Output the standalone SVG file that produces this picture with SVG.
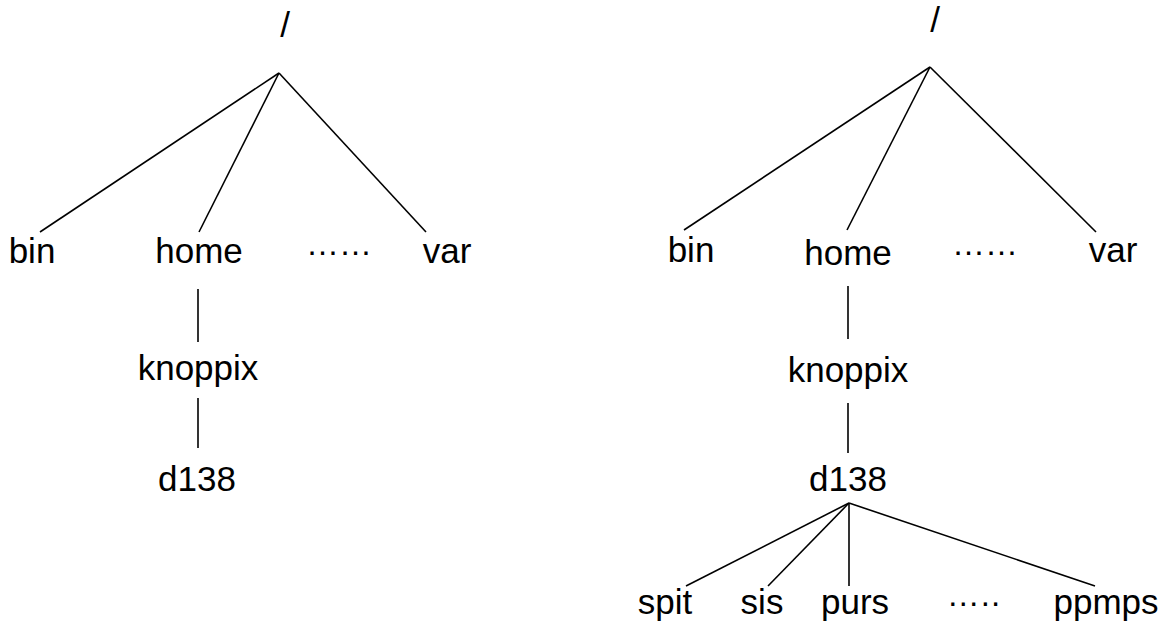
<svg xmlns="http://www.w3.org/2000/svg" width="1161" height="622" viewBox="0 0 1161 622">
<style>
.t{font-family:"Liberation Sans",Arial,sans-serif;font-size:35px;fill:#000;text-anchor:middle}
.d{font-family:"Liberation Sans",Arial,sans-serif;font-size:33px;fill:#000;text-anchor:middle}
.c line{stroke:#000;stroke-width:1.6;fill:none}
</style>
<rect width="1161" height="622" fill="#fff"/>
<g class="c" id="connectors">
<line x1="279" y1="73" x2="40" y2="232"/>
<line x1="279" y1="73" x2="199" y2="232"/>
<line x1="279" y1="73" x2="426" y2="232"/>
<line x1="198" y1="289" x2="198" y2="342"/>
<line x1="198" y1="398" x2="198" y2="448"/>
<line x1="930" y1="67" x2="684" y2="230"/>
<line x1="930" y1="67" x2="847" y2="230"/>
<line x1="930" y1="67" x2="1096" y2="232"/>
<line x1="848" y1="286" x2="848" y2="339"/>
<line x1="848" y1="403" x2="848" y2="453"/>
<line x1="849" y1="503" x2="686" y2="586"/>
<line x1="849" y1="503" x2="768" y2="586"/>
<line x1="849" y1="503" x2="849" y2="586"/>
<line x1="849" y1="503" x2="1095" y2="586"/>
</g>
<g id="l-root"><text class="t" x="285" y="37">/</text></g>
<g id="l-bin"><text class="t" x="32" y="263">bin</text></g>
<g id="l-home"><text class="t" x="199" y="263">home</text></g>
<g id="l-dots"><text class="d" x="339" y="255">……</text></g>
<g id="l-var"><text class="t" x="447" y="263">var</text></g>
<g id="l-knoppix"><text class="t" x="198" y="380">knoppix</text></g>
<g id="l-d138"><text class="t" x="197" y="491">d138</text></g>
<g id="r-root"><text class="t" x="935" y="32">/</text></g>
<g id="r-bin"><text class="t" x="691" y="262">bin</text></g>
<g id="r-home"><text class="t" x="848" y="265">home</text></g>
<g id="r-dots"><text class="d" x="985" y="255">……</text></g>
<g id="r-var"><text class="t" x="1113" y="262">var</text></g>
<g id="r-knoppix"><text class="t" x="848" y="382">knoppix</text></g>
<g id="r-d138"><text class="t" x="848" y="491">d138</text></g>
<g id="r-spit"><text class="t" x="665" y="614">spit</text></g>
<g id="r-sis"><text class="t" x="762" y="614">sis</text></g>
<g id="r-purs"><text class="t" x="855" y="614">purs</text></g>
<g id="r-dots2"><text class="d" x="974" y="606" style="letter-spacing:1px">…..</text></g>
<g id="r-ppmps"><text class="t" x="1106" y="614">ppmps</text></g>
</svg>
